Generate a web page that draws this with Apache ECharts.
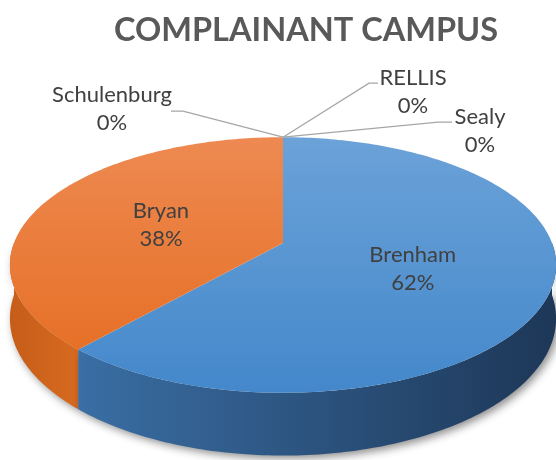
<!DOCTYPE html>
<html>
<head>
<meta charset="utf-8">
<script src="https://cdn.jsdelivr.net/npm/echarts@6/dist/echarts.min.js"></script>
<style>
  html, body { margin: 0; padding: 0; background: #fff; }
  #main { width: 556px; height: 460px; }
</style>
</head>
<body>
<div id="main"></div>
<script>
// data (counts that give 62% / 38%)
const categories = ['Brenham', 'Bryan', 'Schulenburg', 'RELLIS', 'Sealy'];
const counts = [8, 5, 0, 0, 0];

const total = counts.reduce((s, v) => s + v, 0);
const sweeps = counts.map(v => v / total * 360);
const starts = [];
sweeps.reduce((acc, s, i) => { starts[i] = acc; return acc + s; }, 0);

// projection of the tilted disc (angle clockwise from 12 o'clock)
const CX = 283, CY = 243, RX = 269, RY = 124, K = 0.172, DEPTH = 52;
function proj(a, f, h) {
  const r = a * Math.PI / 180;
  const X = Math.sin(r) * f, Z = -Math.cos(r) * f;
  const s = 1 / (1 - K * Z);
  return [CX + RX * X * s, CY + (RY * Z + DEPTH * h) * s];
}
function arc(a0, a1, h) {
  const pts = [];
  const n = Math.max(2, Math.ceil(Math.abs(a1 - a0)));
  for (let j = 0; j <= n; j++) pts.push(proj(a0 + (a1 - a0) * j / n, 1, h));
  return pts;
}

const faceColors = {
  Brenham: ['#6ea4d9', '#4488cb'],
  Bryan: ['#ee8c55', '#e56b1f']
};
const sideColors = {
  Brenham: ['#3a6ea4', '#1d3757'],
  Bryan: ['#c55d18', '#d86a20']
};
// where the callouts of the empty slices sit, relative to the rim point
const callouts = {
  Schulenburg: { elbow: [-100, -26], end: [-112, -26], label: [-171, -28] },
  RELLIS: { elbow: [86, -54], end: [95, -54], label: [130, -45] },
  Sealy: { elbow: [155, -15], end: [169, -15], label: [197, -6] }
};

const labelFont = { fontFamily: 'Lato', fontSize: 22, lineHeight: 28, fill: '#404040' };

function renderSlice(params, api) {
  const i = params.dataIndex;
  const name = categories[i];
  const a0 = starts[i], a1 = a0 + sweeps[i];
  const pct = Math.round(counts[i] / total * 100) + '%';
  const children = [];
  if (sweeps[i] > 0) {
    const s0 = Math.max(a0, 90), s1 = Math.min(a1, 270);
    if (s1 > s0) {
      const pts = arc(s0, s1, 0).concat(arc(s1, s0, 1));
      const xs = pts.map(p => p[0]);
      children.push({
        type: 'polygon', z2: 10 - i,
        shape: { points: pts },
        style: {
          fill: new echarts.graphic.LinearGradient(Math.min(...xs), 0, Math.max(...xs), 0, [
            { offset: 0, color: sideColors[name][0] },
            { offset: 1, color: sideColors[name][1] }
          ], true),
          shadowBlur: 8, shadowColor: 'rgba(0,0,0,0.45)', shadowOffsetX: 3, shadowOffsetY: 3
        }
      });
    }
    children.push({
      type: 'polygon', z2: 20,
      shape: { points: [proj(0, 0, 0)].concat(arc(a0, a1, 0)) },
      style: {
        fill: new echarts.graphic.LinearGradient(0, CY - RY, 0, CY + RY * 1.2, [
          { offset: 0, color: faceColors[name][0] },
          { offset: 1, color: faceColors[name][1] }
        ], true)
      }
    });
    const c = proj((a0 + a1) / 2, 0.5, 0);
    children.push({
      type: 'text', z2: 30, x: c[0], y: c[1] + 3,
      style: Object.assign({ text: name + '\n' + pct, align: 'center', verticalAlign: 'middle' }, labelFont)
    });
  } else {
    const p = proj(a0, 1, 0);
    const co = callouts[name];
    children.push({
      type: 'polyline', z2: 25,
      shape: { points: [p, [p[0] + co.elbow[0], p[1] + co.elbow[1]], [p[0] + co.end[0], p[1] + co.end[1]]] },
      style: { stroke: '#a6a6a6', lineWidth: 1.3, fill: null }
    });
    children.push({
      type: 'text', z2: 30, x: p[0] + co.label[0], y: p[1] + co.label[1],
      style: Object.assign({ text: name + '\n' + pct, align: 'center', verticalAlign: 'middle' }, labelFont)
    });
  }
  return { type: 'group', children: children };
}

const chart = echarts.init(document.getElementById('main'), null, { renderer: 'canvas' });
chart.setOption({
  backgroundColor: '#fff',
  animation: false,
  title: {
    text: 'COMPLAINANT CAMPUS',
    left: 301, top: 9, textAlign: 'center',
    textStyle: { fontFamily: 'Lato', fontWeight: 'bold', fontSize: 32.5, color: '#595959' }
  },
  series: [{
    type: 'custom',
    coordinateSystem: 'none',
    silent: true,
    renderItem: renderSlice,
    data: categories.map((n, i) => ({ name: n, value: counts[i] }))
  }]
});
</script>
</body>
</html>
